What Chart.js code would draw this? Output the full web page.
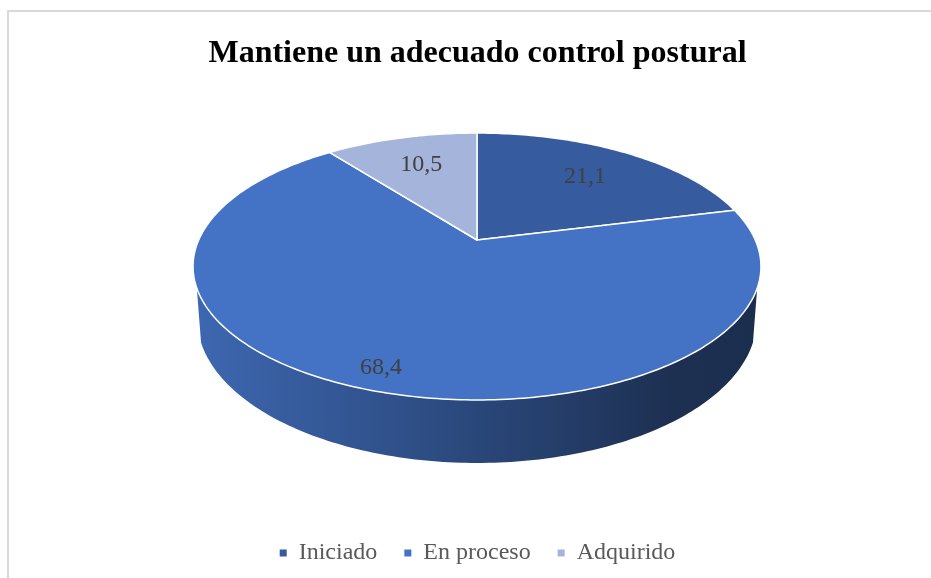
<!DOCTYPE html>
<html>
<head>
<meta charset="utf-8">
<title>Mantiene un adecuado control postural</title>
<script src="https://cdn.jsdelivr.net/npm/chart.js@4.4.1/dist/chart.umd.min.js"></script>
<style>
  html, body { margin: 0; padding: 0; background: #fff; }
  #wrap { position: relative; width: 931px; height: 578px; overflow: hidden; }
  #frame { position: absolute; left: 7px; top: 10px; right: -10px; bottom: -10px;
           border-left: 2px solid #d9d9d9; border-top: 2px solid #d9d9d9; }
  canvas { position: absolute; left: 0; top: 0; }
</style>
</head>
<body>
<div id="wrap">
  <div id="frame"></div>
  <canvas id="pieChart" width="931" height="578"></canvas>
</div>
<script>
// Data
const categories = ['Iniciado', 'En proceso', 'Adquirido'];
const percentages = [21.1, 68.4, 10.5];
const valueLabels = ['21,1', '68,4', '10,5'];
const sliceColors = ['#365B9F', '#4472C4', '#A5B4DA'];
// where each value label sits along its slice's middle ray (fraction of radius)
const labelRadius = [0.7, 0.88, 0.7];

// Tilted-disc view used to fake the 3D pie
const view = { cx: 477, cy: 240, rx: 278.3, ry: 128.2, tilt: -0.1985, depth: 50.5, sideFrom: 0.35 };

function project(angle, r, bottom) {
    const u = r * Math.cos(angle), v = r * Math.sin(angle);
    const w = 1 + view.tilt * v;
    const squeeze = bottom ? 0.985 : 1;
    return {
        x: view.cx + view.rx * squeeze * u / w,
        y: view.cy + view.ry * v / w + (bottom ? view.depth / w : 0)
    };
}

function shade(hex, f) {
    const n = parseInt(hex.slice(1), 16);
    const r = Math.round(((n >> 16) & 255) * f);
    const g = Math.round(((n >> 8) & 255) * f);
    const b = Math.round((n & 255) * f);
    return `rgb(${r},${g},${b})`;
}

function tracePath(ctx, a0, a1, bottom, first) {
    const steps = Math.max(8, Math.ceil(Math.abs(a1 - a0) * 60));
    for (let i = 0; i <= steps; i++) {
        const p = project(a0 + (a1 - a0) * i / steps, 1, bottom);
        if (first && i === 0) ctx.moveTo(p.x, p.y); else ctx.lineTo(p.x, p.y);
    }
}

const pie3d = {
    id: 'pie3d',
    beforeDatasetsDraw(chart) {
        const ctx = chart.ctx;
        const arcs = chart.getDatasetMeta(0).data;
        const colors = chart.data.datasets[0].backgroundColor;
        const frontStart = Math.asin(view.sideFrom);
        const frontEnd = Math.PI - frontStart;

        ctx.save();
        // side walls (front half only)
        arcs.forEach((arc, i) => {
            const s = Math.max(arc.startAngle, frontStart);
            const e = Math.min(arc.endAngle, frontEnd);
            if (e <= s) return;
            const grad = ctx.createLinearGradient(view.cx - view.rx, 0, view.cx + view.rx, 0);
            grad.addColorStop(0, shade(colors[i], 0.9));
            grad.addColorStop(0.5, shade(colors[i], 0.62));
            grad.addColorStop(0.85, shade(colors[i], 0.42));
            grad.addColorStop(1, shade(colors[i], 0.4));
            ctx.beginPath();
            tracePath(ctx, s, e, false, true);
            tracePath(ctx, e, s, true, false);
            ctx.closePath();
            ctx.fillStyle = grad;
            ctx.fill();
        });

        // top faces
        arcs.forEach((arc, i) => {
            ctx.beginPath();
            ctx.moveTo(view.cx, view.cy);
            tracePath(ctx, arc.startAngle, arc.endAngle, false, false);
            ctx.closePath();
            ctx.fillStyle = colors[i];
            ctx.fill();
            ctx.lineWidth = 1.5;
            ctx.strokeStyle = '#ffffff';
            ctx.lineJoin = 'round';
            ctx.stroke();
        });

        // value labels
        ctx.font = '24px "Liberation Serif"';
        ctx.fillStyle = '#404040';
        ctx.textAlign = 'center';
        ctx.textBaseline = 'middle';
        arcs.forEach((arc, i) => {
            const mid = (arc.startAngle + arc.endAngle) / 2;
            const p = project(mid, labelRadius[i], false);
            ctx.fillText(valueLabels[i], p.x, p.y);
        });
        ctx.restore();
        return false;
    }
};

new Chart(document.getElementById('pieChart'), {
    type: 'pie',
    data: {
        labels: categories,
        datasets: [{
            data: percentages,
            backgroundColor: sliceColors,
            borderColor: '#ffffff',
            borderWidth: 1.5
        }]
    },
    options: {
        responsive: false,
        animation: false,
        events: [],
        layout: { padding: { left: 24, bottom: 3 } },
        plugins: {
            title: {
                display: true,
                text: 'Mantiene un adecuado control postural',
                color: '#000000',
                font: { family: 'Liberation Serif', size: 32, weight: 'bold' },
                padding: { top: 35, bottom: 10 }
            },
            legend: {
                position: 'bottom',
                labels: {
                    boxWidth: 7,
                    boxHeight: 7,
                    padding: 27,
                    color: '#595959',
                    font: { family: 'Liberation Serif', size: 24 },
                    generateLabels(chart) {
                        return Chart.overrides.pie.plugins.legend.labels.generateLabels(chart)
                            .map(item => ({ ...item, lineWidth: 0, strokeStyle: 'rgba(0,0,0,0)' }));
                    }
                }
            },
            tooltip: { enabled: false }
        }
    },
    plugins: [pie3d]
});
</script>
</body>
</html>
